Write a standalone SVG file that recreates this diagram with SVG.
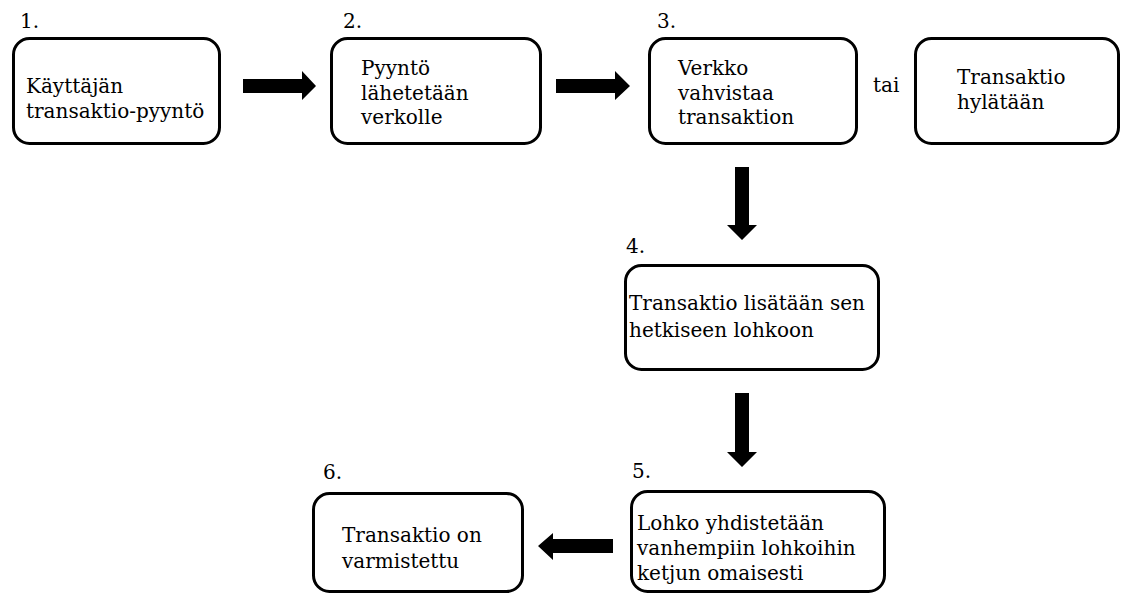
<svg xmlns="http://www.w3.org/2000/svg" width="1121" height="594" viewBox="0 0 1121 594">
<style>
.box{fill:#fff;stroke:#000;stroke-width:3}
.t{font-family:"DejaVu Serif","Liberation Serif","Noto Serif",serif;font-size:20px;fill:#000}
.arr{fill:#000;stroke:none}
</style>
<rect width="1121" height="594" fill="#fff"/>
<g id="connectors">
<polygon class="arr" points="243,79 302,79 302,71 316,86 302,100 302,93 243,93"/>
<polygon class="arr" points="556,79 615,79 615,71 630,86 615,100 615,93 556,93"/>
<polygon class="arr" points="735,167 749,167 749,225 757,225 742,240 727,225 735,225"/>
<polygon class="arr" points="735,393 749,393 749,452 757,452 742,467 727,452 735,452"/>
<polygon class="arr" points="613,539 553,539 553,533 538,546 553,560 553,553 613,553"/>
</g>
<g id="n1">
<text class="t" x="20" y="28">1.</text>
<rect class="box" x="13.5" y="38.5" width="206" height="105" rx="16"/>
<text class="t" x="26" y="93">Käyttäjän</text>
<text class="t" x="26" y="118">transaktio-pyyntö</text>
</g>
<g id="n2">
<text class="t" x="343" y="28">2.</text>
<rect class="box" x="331.5" y="38.5" width="209" height="105" rx="16"/>
<text class="t" x="361" y="75">Pyyntö</text>
<text class="t" x="361" y="100">lähetetään</text>
<text class="t" x="361" y="124">verkolle</text>
</g>
<g id="n3">
<text class="t" x="657" y="28">3.</text>
<rect class="box" x="649.5" y="38.5" width="207" height="105" rx="16"/>
<text class="t" x="678" y="75">Verkko</text>
<text class="t" x="678" y="100">vahvistaa</text>
<text class="t" x="678" y="124">transaktion</text>
</g>
<g id="or">
<text class="t" x="873" y="92">tai</text>
</g>
<g id="n3b">
<rect class="box" x="915.5" y="38.5" width="203" height="105" rx="16"/>
<text class="t" x="957" y="84">Transaktio</text>
<text class="t" x="957" y="109">hylätään</text>
</g>
<g id="n4">
<text class="t" x="626" y="253">4.</text>
<rect class="box" x="625.5" y="265.5" width="253" height="104" rx="16"/>
<text class="t" x="629" y="310">Transaktio lisätään sen</text>
<text class="t" x="629" y="337">hetkiseen lohkoon</text>
</g>
<g id="n5">
<text class="t" x="632" y="478">5.</text>
<rect class="box" x="631.5" y="491.5" width="253" height="100" rx="16"/>
<text class="t" x="637" y="530">Lohko yhdistetään</text>
<text class="t" x="637" y="555">vanhempiin lohkoihin</text>
<text class="t" x="637" y="580">ketjun omaisesti</text>
</g>
<g id="n6">
<text class="t" x="323" y="479">6.</text>
<rect class="box" x="313.5" y="493.5" width="209" height="98" rx="16"/>
<text class="t" x="342" y="542">Transaktio on</text>
<text class="t" x="342" y="568">varmistettu</text>
</g>
</svg>
